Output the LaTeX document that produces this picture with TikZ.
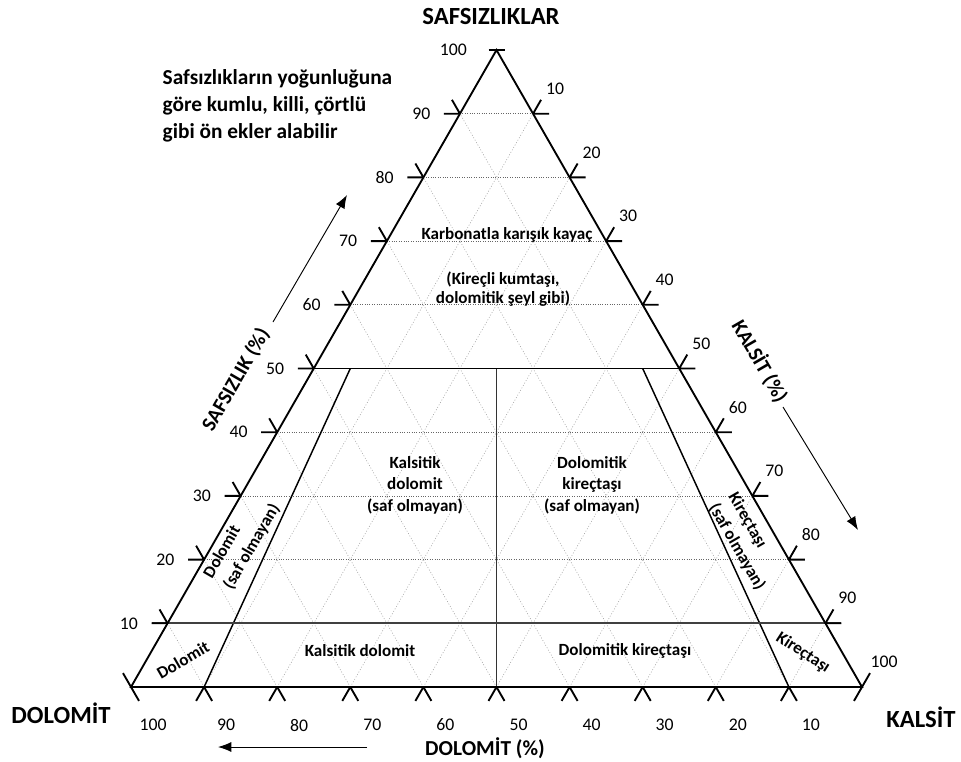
\documentclass[tikz,border=0pt]{standalone}
\usepackage{fontspec}
\setmainfont{Carlito}
\usepackage{tikz}
\usetikzlibrary{shapes,arrows,arrows.meta,positioning,calc}

\begin{document}
\begin{tikzpicture}[x=0.75pt,y=-0.75pt,
    num/.style={font=\fontsize{13.3}{16}\selectfont},
    region/.style={font=\fontsize{12.8}{16}\selectfont\bfseries, align=center},
    axis/.style={font=\fontsize{15.5}{18}\selectfont\bfseries},
    corner/.style={font=\fontsize{18.5}{22}\selectfont\bfseries},
    edge/.style={line width=1.4pt},
    gridh/.style={line width=0.5pt, black!60, dash pattern=on 0.7pt off 1.1pt},
    gridd/.style={line width=0.45pt, black!35, dash pattern=on 0.7pt off 1.4pt},
    pointer/.style={line width=0.7pt, -{Latex[length=10pt,width=7.5pt]}}]
    \useasboundingbox (0,0) rectangle (961,761);

    % Corners of the triangle
    \coordinate (D) at (131,687);
    \coordinate (K) at (862,687);
    \coordinate (S) at (496.5,50);

    % Dotted grid
    \foreach \i in {1,...,9}{
        \pgfmathsetmacro\f{\i/10}
        \draw[gridd] ($(D)!\f!(K)$) -- ($(S)!\f!(K)$);
        \draw[gridd] ($(K)!\f!(D)$) -- ($(S)!\f!(D)$);
    }
    \foreach \i in {2,3,4,6,7,8,9}{
        \pgfmathsetmacro\f{\i/10}
        \draw[gridh] ($(D)!\f!(S)$) -- ($(K)!\f!(S)$);
    }

    % Field boundaries
    \coordinate (b1) at ($(D)!0.1!(K)$);
    \coordinate (b5) at ($(D)!0.5!(K)$);
    \coordinate (b9) at ($(D)!0.9!(K)$);
    \draw[line width=1.1pt] (b1) -- ($(b1)!0.5!(S)$);
    \draw[line width=1.2pt, black!80] (b5) -- ($(b5)!0.5!(S)$);
    \draw[line width=1.1pt] (b9) -- ($(b9)!0.5!(S)$);
    \draw[line width=1.2pt] ($(D)!0.5!(S)$) -- ($(K)!0.5!(S)$);
    \draw[line width=1.4pt, black!75] ($(D)!0.1!(S)+(-16,0)$) -- ($(K)!0.1!(S)+(16,0)$);

    % Triangle
    \draw[edge, line join=miter] (D) -- (K) -- (S) -- cycle;

    % Ticks
    \foreach \i in {1,...,9}{
        \pgfmathsetmacro\f{\i/10}
        \draw[edge] ($(D)!\f!(S)$) -- ++(-16,0) ($(D)!\f!(S)$) -- ++(-8,-13.9);
        \draw[edge] ($(K)!\f!(S)$) -- ++(16,0) ($(K)!\f!(S)$) -- ++(8,-13.9);
        \draw[edge] ($(D)!\f!(K)$) -- ++(-8,13.9) ($(D)!\f!(K)$) -- ++(8,13.9);
    }
    \draw[edge] ($(D)+(-8,-13.9)$) -- ($(D)+(8,13.9)$);
    \draw[edge] ($(K)+(-8,13.9)$) -- ($(K)+(8,-13.9)$);
    \draw[edge] ($(S)+(-8,0)$) -- ($(S)+(8,0)$);

    % Scale numbers
    \foreach \i in {1,...,10}{
        \pgfmathsetmacro\f{\i/10}
        \pgfmathtruncatemacro\v{\i*10}
        \pgfmathsetmacro\bx{862-\f*731+22}
        \node[num, anchor=east] (ls\i) at ($(D)!\f!(S)+(-25,0)$) {\v};
        \node[num] (rk\i) at ($(S)!\f!(K)+(22,-25)$) {\v};
        \node[num] (bd\i) at (\bx,725) {\v};
    }

    % Corner and axis titles
    \node[corner] (top) at (491,16) {SAFSIZLIKLAR};
    \node[corner] (dolomit) at (61,713) {DOLOMİT};
    \node[corner] (kalsit) at (921,717) {KALSİT};
    \node[axis, font=\fontsize{16}{18}\selectfont\bfseries] (dolax) at (485,748) {DOLOMİT (\%)};
    \node[axis, rotate=60] (safax) at (236,380) {SAFSIZLIK (\%)};
    \node[axis, rotate=-60] (kalax) at (760,361) {KALSİT (\%)};

    % Direction arrows
    \coordinate (da0) at (367,747);
    \coordinate (da1) at (218,747);
    \coordinate (sa0) at (273,322);
    \coordinate (sa1) at (347,195);
    \coordinate (ka0) at (783,407);
    \coordinate (ka1) at (858,530);
    \draw[pointer] (da0) -- (da1);
    \draw[pointer] (sa0) -- (sa1);
    \draw[pointer] (ka0) -- (ka1);

    % Note
    \node[anchor=base west, align=left, font=\fontsize{16}{19.9}\selectfont\bfseries] (note) at (158,138)
        {Safsızlıkların yoğunluğuna\\göre kumlu, killi, çörtlü\\gibi ön ekler alabilir};

    % Field names
    \node[region] (karb) at (507,235) {Karbonatla karışık kayaç};
    \node[region, font=\fontsize{12.8}{13.7}\selectfont\bfseries] (kirecli) at (503,289) {(Kireçli kumtaşı,\\dolomitik şeyl gibi)};
    \node[region, font=\fontsize{12.8}{16.1}\selectfont\bfseries] (kdolsaf) at (415,485) {Kalsitik\\dolomit\\(saf olmayan)};
    \node[region, font=\fontsize{12.8}{16.1}\selectfont\bfseries] (dkirsaf) at (592,485) {Dolomitik\\kireçtaşı\\(saf olmayan)};
    \node[region] (kdol) at (360,651) {Kalsitik dolomit};
    \node[region] (dkir) at (625,651) {Dolomitik kireçtaşı};
    \node[region, rotate=30] (dol) at (183,660) {Dolomit};
    \node[region, rotate=-33] (kir) at (803,653) {Kireçtaşı};
    \node[region, rotate=60, align=left, font=\fontsize{12.8}{17.2}\selectfont\bfseries] (dolsaf) at (242,541) {Dolomit\\(saf olmayan)};
    \node[region, rotate=-60, align=left, font=\fontsize{12.8}{16.8}\selectfont\bfseries] (kirsaf) at (746.5,541.5) {Kireçtaşı\\(saf olmayan)};
\end{tikzpicture}
\end{document}
